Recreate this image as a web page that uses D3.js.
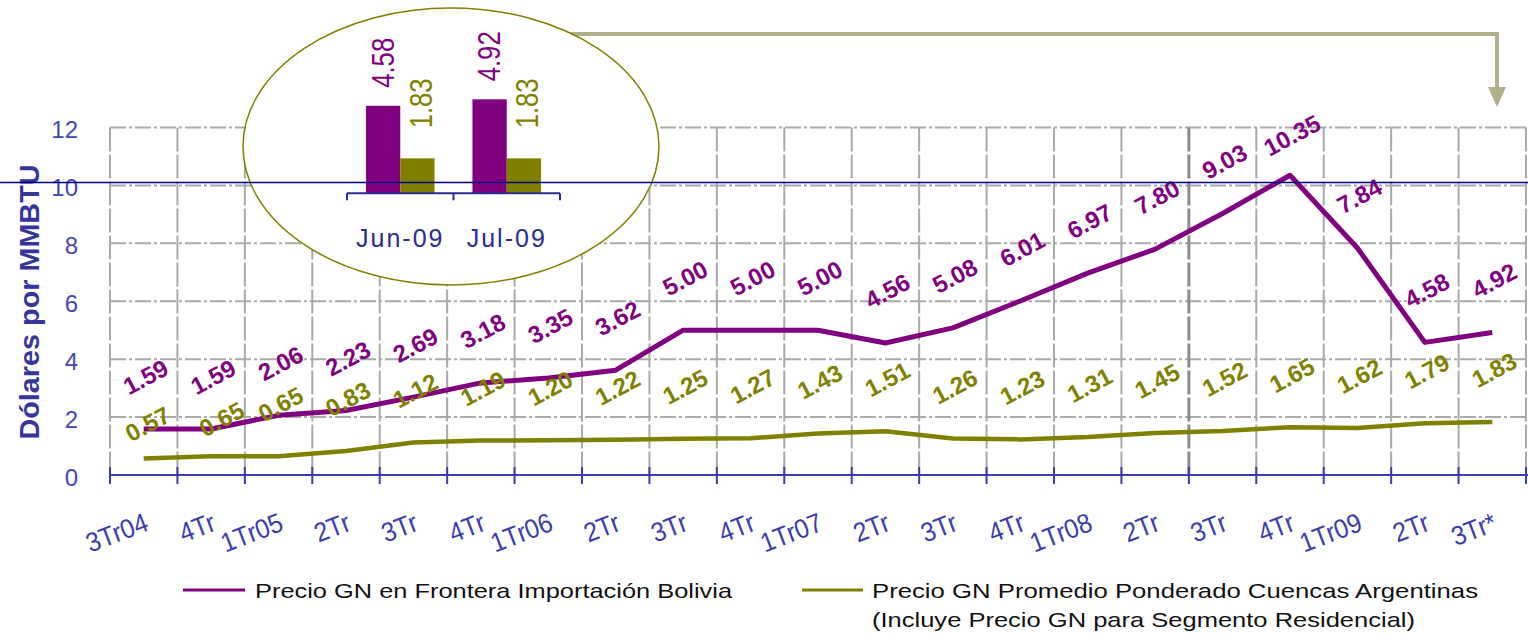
<!DOCTYPE html>
<html><head><meta charset="utf-8">
<script src="https://cdn.jsdelivr.net/npm/d3@7"></script>
<style>body{margin:0;background:#fff;} svg{display:block;font-family:"Liberation Sans",Arial,sans-serif;}</style>
</head><body><svg id="c" width="1528" height="634"></svg>
<script>
const categories = ["3Tr04","4Tr","1Tr05","2Tr","3Tr","4Tr","1Tr06","2Tr","3Tr","4Tr","1Tr07","2Tr","3Tr","4Tr","1Tr08","2Tr","3Tr","4Tr","1Tr09","2Tr","3Tr*"];
const boliviaValues = [1.59,1.59,2.06,2.23,2.69,3.18,3.35,3.62,5.00,5.00,5.00,4.56,5.08,6.01,6.97,7.80,9.03,10.35,7.84,4.58,4.92];
const argentinaValues = [0.57,0.65,0.65,0.83,1.12,1.19,1.20,1.22,1.25,1.27,1.43,1.51,1.26,1.23,1.31,1.45,1.52,1.65,1.62,1.79,1.83];
const yTicks = [0,2,4,6,8,10,12];
const insetCategories = ["Jun-09","Jul-09"];
const insetBolivia = [4.58,4.92];
const insetArgentina = [1.83,1.83];
const legendBolivia = ["Precio GN en Frontera Importación Bolivia"];
const legendArgentina = ["Precio GN Promedio Ponderado Cuencas Argentinas","(Incluye Precio GN para Segmento Residencial)"];
const yTitle = "Dólares por MMBTU";

const W = 1528, H = 634;
const PURPLE = "#800080", OLIVE = "#808000", AXIS = "#3c3caa", GRID = "#a9a9a9";
const svg = d3.select("#c");

const x = d3.scaleBand().domain(d3.range(categories.length)).range([110, 1526]);
const y = d3.scaleLinear().domain([0, 12]).range([475, 127.5]);
const bw = x.bandwidth();
const cx = i => x(i) + bw / 2;
const bounds = d3.range(categories.length + 1).map(i => i < categories.length ? x(i) : x.range()[1]);

// grid
const grid = svg.append("g");
grid.selectAll("line.h").data(yTicks.filter(d => d > 0)).join("line").attr("class","h")
  .attr("x1", 110).attr("x2", W).attr("y1", d => y(d)).attr("y2", d => y(d))
  .attr("stroke", GRID).attr("stroke-width", 2).attr("stroke-dasharray", "16,3,3,3");
grid.selectAll("line.v").data(bounds).join("line").attr("class","v")
  .attr("x1", d => d).attr("x2", d => d).attr("y1", y(12)).attr("y2", y(0))
  .attr("stroke", (d, i) => i === 16 ? "#8a8a8a" : GRID)
  .attr("stroke-width", (d, i) => i === 16 ? 3 : 2)
  .attr("stroke-dasharray", "24,3");

// x axis
const gx = svg.append("g");
gx.append("line").attr("x1", 110).attr("x2", W).attr("y1", y(0)).attr("y2", y(0))
  .attr("stroke", AXIS).attr("stroke-width", 2);
gx.selectAll("line.t").data(bounds).join("line").attr("class","t")
  .attr("x1", d => d).attr("x2", d => d).attr("y1", y(0) - 8).attr("y2", y(0) + 9)
  .attr("stroke", AXIS).attr("stroke-width", 2);
gx.selectAll("text").data(categories).join("text")
  .attr("transform", (d, i) => `translate(${cx(i) + 3},521) rotate(-21) scale(0.92,1)`)
  .attr("text-anchor", "end").attr("dominant-baseline", "central")
  .attr("font-size", 27).attr("fill", AXIS).text(d => d);

// y axis
const yAxis = d3.axisLeft(y).tickValues(yTicks).tickSize(0).tickPadding(32).tickFormat(d3.format("d"));
const gy = svg.append("g").attr("transform", "translate(110,0)").call(yAxis)
  .attr("font-size", null).attr("font-family", null);
gy.select(".domain").remove();
gy.selectAll("text").attr("font-size", 24).attr("fill", "#4646ae").attr("dy", "0.42em");

svg.append("text").attr("transform", "translate(29,302) rotate(-90)")
  .attr("text-anchor", "middle").attr("dominant-baseline", "central")
  .attr("font-size", 28).attr("font-weight", "bold").attr("fill", "#35359a")
  .attr("textLength", 275).attr("lengthAdjust", "spacingAndGlyphs").text(yTitle);

// connector arrow
svg.append("path").attr("d", "M520,34 H1497 V90").attr("fill", "none")
  .attr("stroke", "#b0b08a").attr("stroke-width", 4);
svg.append("polygon").attr("points", "1488,87 1506,87 1497,107").attr("fill", "#b0b08a");

// inset ellipse
svg.append("ellipse").attr("cx", 451).attr("cy", 146.5).attr("rx", 208).attr("ry", 138.5)
  .attr("fill", "#fff").attr("stroke", OLIVE).attr("stroke-width", 1.5);

// inset chart
const xi = d3.scaleBand().domain(insetCategories).range([347, 560]);
const groupW = 68.6;
const xin = d3.scaleBand().domain([0, 1]).range([(xi.bandwidth() - groupW) / 2, (xi.bandwidth() + groupW) / 2]);
const yi = d3.scaleLinear().domain([0, 5]).range([193.3, 97.8]);
const inset = svg.append("g");
const insetSeries = [
  {vals: insetBolivia, color: PURPLE, k: 0, off: 18, dx: 0},
  {vals: insetArgentina, color: OLIVE, k: 1, off: 30, dx: 4}
];
insetSeries.forEach(s => {
  inset.selectAll(null).data(s.vals).join("rect")
    .attr("x", (d, i) => xi(insetCategories[i]) + xin(s.k))
    .attr("y", d => yi(d)).attr("width", xin.bandwidth()).attr("height", d => yi(0) - yi(d))
    .attr("fill", s.color);
  inset.selectAll(null).data(s.vals).join("text")
    .attr("transform", (d, i) => `translate(${xi(insetCategories[i]) + xin(s.k) + xin.bandwidth() / 2 + s.dx},${yi(d) - s.off}) rotate(-90)`)
    .attr("text-anchor", "start").attr("dominant-baseline", "central")
    .attr("font-size", 31).attr("fill", s.color)
    .attr("textLength", 50).attr("lengthAdjust", "spacingAndGlyphs")
    .text(d => d3.format(".2f")(d));
});
inset.append("line").attr("x1", 347).attr("x2", 560).attr("y1", yi(0)).attr("y2", yi(0))
  .attr("stroke", "#2b2b8f").attr("stroke-width", 2);
inset.selectAll("line.it").data([347, 453.5, 560]).join("line").attr("class","it")
  .attr("x1", d => d).attr("x2", d => d).attr("y1", yi(0)).attr("y2", yi(0) + 7)
  .attr("stroke", "#2b2b8f").attr("stroke-width", 2);
inset.selectAll("text.ic").data(insetCategories).join("text").attr("class","ic")
  .attr("x", d => xi(d) + xi.bandwidth() / 2).attr("y", 247)
  .attr("text-anchor", "middle").attr("font-size", 25).attr("letter-spacing", 2)
  .attr("fill", "#2b2b8f").text(d => d);

// lines
const line = d3.line().x((d, i) => cx(i)).y(d => y(d));
svg.append("path").datum(argentinaValues).attr("d", line).attr("fill", "none")
  .attr("stroke", OLIVE).attr("stroke-width", 4.5).attr("stroke-linejoin", "round");
svg.append("path").datum(boliviaValues).attr("d", line).attr("fill", "none")
  .attr("stroke", PURPLE).attr("stroke-width", 5).attr("stroke-linejoin", "round");

// data labels
const nudgeB = {17: [0, 12]};
const nudgeA = {0: [2, 17.5], 1: [8.6, 15]};
function labels(vals, color, nudge) {
  svg.append("g").selectAll("text").data(vals).join("text")
    .attr("transform", (d, i) => {
      const n = nudge[i] || [0, 0];
      return `translate(${cx(i) + 2 + n[0]},${y(d) - 52 + n[1]}) rotate(-28)`;
    })
    .attr("text-anchor", "middle").attr("dominant-baseline", "central")
    .attr("font-size", 24).attr("font-weight", "bold").attr("fill", color)
    .text(d => d3.format(".2f")(d));
}
labels(boliviaValues, PURPLE, nudgeB);
labels(argentinaValues, OLIVE, nudgeA);

// legend
const lg = svg.append("g");
lg.append("line").attr("x1", 183).attr("x2", 245).attr("y1", 590).attr("y2", 590)
  .attr("stroke", PURPLE).attr("stroke-width", 3);
lg.append("text").attr("x", 255).attr("y", 590).attr("dominant-baseline", "central")
  .attr("font-size", 21).attr("fill", "#111").attr("textLength", 477).attr("lengthAdjust", "spacingAndGlyphs")
  .text(legendBolivia[0]);
lg.append("line").attr("x1", 802).attr("x2", 863).attr("y1", 590).attr("y2", 590)
  .attr("stroke", OLIVE).attr("stroke-width", 3);
lg.append("text").attr("x", 872).attr("y", 590).attr("dominant-baseline", "central")
  .attr("font-size", 21).attr("fill", "#111").attr("textLength", 606).attr("lengthAdjust", "spacingAndGlyphs")
  .text(legendArgentina[0]);
lg.append("text").attr("x", 872).attr("y", 619).attr("dominant-baseline", "central")
  .attr("font-size", 21).attr("fill", "#111").attr("textLength", 543).attr("lengthAdjust", "spacingAndGlyphs")
  .text(legendArgentina[1]);

// thin navy line across the chart
svg.append("line").attr("x1", 0).attr("x2", W).attr("y1", 182.5).attr("y2", 182.5)
  .attr("stroke", "#000080").attr("stroke-width", 1.5);
</script></body></html>
